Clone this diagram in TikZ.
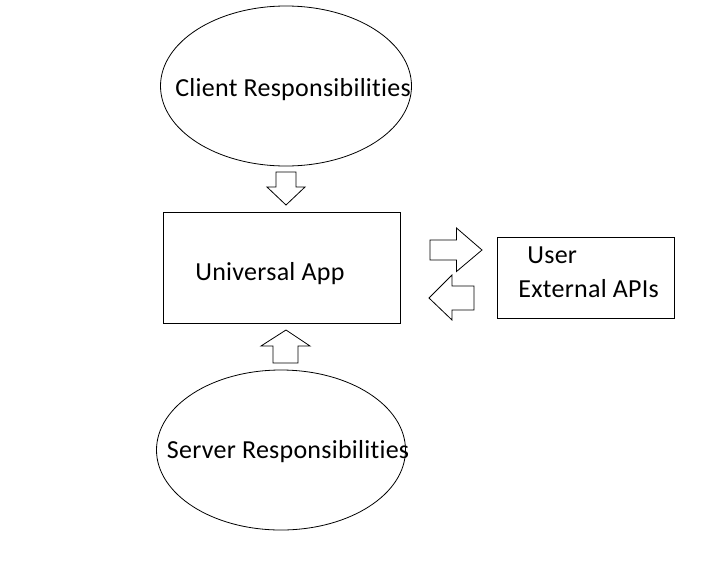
\documentclass[tikz,border=0pt]{standalone}
\usepackage{fontspec}
\setmainfont[Ligatures=NoCommon,LetterSpace=1]{Carlito}
\usetikzlibrary{shapes.geometric}
\begin{document}
\begin{tikzpicture}[x=1pt,y=-1pt,line width=0.8pt,
  lbl/.style={anchor=base west,inner sep=0pt,font=\fontsize{26}{30}\selectfont},
  blockarrow/.style={draw=black,fill=white,line join=miter}]
\useasboundingbox[fill=white] (0,0) rectangle (707,571);
% ellipses
\node[draw,ellipse,minimum width=251pt,minimum height=160pt,inner sep=0pt] (client) at (286,86) {};
\node[draw,ellipse,minimum width=249pt,minimum height=160pt,inner sep=0pt] (server) at (281,450) {};
% boxes
\node[draw,rectangle,minimum width=237.4pt,minimum height=111pt,inner sep=0pt] (app) at (282,267.8) {};
\node[draw,rectangle,minimum width=176.6pt,minimum height=80.6pt,inner sep=0pt] (user) at (586,278) {};
% labels
\node[lbl] (tclient) at (175,96) {Client Responsibilities};
\node[lbl] (tapp) at (195,280) {Universal App};
\node[lbl] (tserver) at (166.5,458.3) {Server Responsibilities};
\node[lbl] (tuser) at (527,263.3) {User};
\node[lbl] (tapi) at (518,297.7) {External APIs};
% block arrows
\draw[blockarrow] (276,172) -- (296,172) -- (296,187) -- (305,187) -- (286,205) -- (267,187) -- (276,187) -- cycle;
\draw[blockarrow] (273,363) -- (298,363) -- (298,346) -- (310,346) -- (286,330) -- (261,346) -- (273,346) -- cycle;
\draw[blockarrow] (430,240) -- (456.5,240) -- (456.5,228) -- (482,250) -- (456.5,271.5) -- (456.5,260) -- (430,260) -- cycle;
\draw[blockarrow] (474,286) -- (452,286) -- (452,275) -- (429,298) -- (452,320) -- (452,310) -- (474,310) -- cycle;
\end{tikzpicture}
\end{document}
